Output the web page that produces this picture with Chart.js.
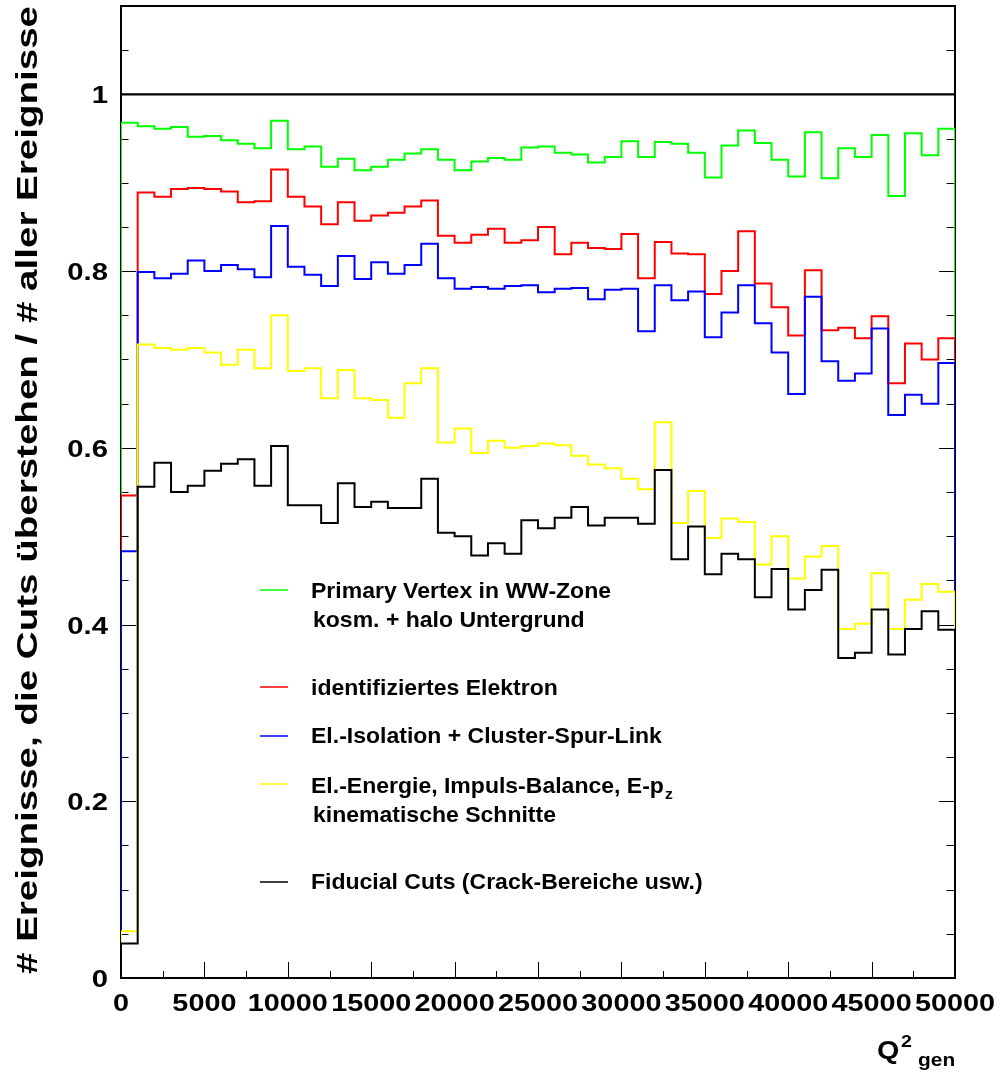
<!DOCTYPE html>
<html>
<head>
<meta charset="utf-8">
<title>Effizienz der Cuts gegen Q2_gen</title>
<script src="https://cdn.jsdelivr.net/npm/chart.js@4.4.1/dist/chart.umd.min.js"></script>
<style>
  html, body { margin: 0; padding: 0; background: #fff; }
  #wrap { width: 1001px; height: 1075px; }
</style>
</head>
<body>
<div id="wrap"><canvas id="chart" width="1001" height="1075"></canvas></div>
<script>
// Histogram bin edges in Q^2_gen (50 bins of 1000)
const q2Edges = [0, 1000, 2000, 3000, 4000, 5000, 6000, 7000, 8000, 9000,
  10000, 11000, 12000, 13000, 14000, 15000, 16000, 17000, 18000, 19000,
  20000, 21000, 22000, 23000, 24000, 25000, 26000, 27000, 28000, 29000,
  30000, 31000, 32000, 33000, 34000, 35000, 36000, 37000, 38000, 39000,
  40000, 41000, 42000, 43000, 44000, 45000, 46000, 47000, 48000, 49000, 50000];

// fraction of events surviving each cut step, one value per bin
const effVertex = [0.968, 0.964, 0.961, 0.963, 0.952, 0.953, 0.948, 0.944, 0.939, 0.970,
  0.938, 0.941, 0.918, 0.927, 0.914, 0.918, 0.926, 0.933, 0.938, 0.926,
  0.914, 0.924, 0.928, 0.926, 0.940, 0.941, 0.934, 0.932, 0.923, 0.929,
  0.947, 0.929, 0.946, 0.944, 0.934, 0.906, 0.942, 0.959, 0.945, 0.926,
  0.907, 0.957, 0.905, 0.939, 0.929, 0.954, 0.885, 0.956, 0.931, 0.961];

const effElectron = [0.546, 0.889, 0.884, 0.893, 0.894, 0.893, 0.890, 0.878, 0.879, 0.915,
  0.884, 0.873, 0.853, 0.878, 0.857, 0.863, 0.866, 0.873, 0.880, 0.840,
  0.832, 0.841, 0.848, 0.832, 0.835, 0.850, 0.819, 0.832, 0.826, 0.825,
  0.842, 0.792, 0.833, 0.820, 0.819, 0.774, 0.800, 0.845, 0.786, 0.759,
  0.727, 0.801, 0.733, 0.736, 0.724, 0.749, 0.673, 0.718, 0.700, 0.724];

const effIsolation = [0.483, 0.799, 0.792, 0.797, 0.812, 0.800, 0.807, 0.802, 0.793, 0.851,
  0.805, 0.796, 0.783, 0.817, 0.791, 0.810, 0.797, 0.807, 0.831, 0.792,
  0.780, 0.782, 0.780, 0.783, 0.784, 0.776, 0.780, 0.781, 0.768, 0.779,
  0.780, 0.732, 0.784, 0.767, 0.777, 0.725, 0.753, 0.784, 0.741, 0.708,
  0.661, 0.771, 0.698, 0.676, 0.684, 0.735, 0.637, 0.660, 0.650, 0.696];

const effKinematic = [0.053, 0.717, 0.713, 0.711, 0.713, 0.708, 0.694, 0.711, 0.690, 0.750,
  0.687, 0.690, 0.656, 0.688, 0.656, 0.654, 0.634, 0.673, 0.690, 0.606,
  0.622, 0.594, 0.608, 0.600, 0.602, 0.605, 0.603, 0.591, 0.581, 0.577,
  0.565, 0.553, 0.629, 0.515, 0.551, 0.498, 0.520, 0.516, 0.468, 0.500,
  0.452, 0.477, 0.489, 0.395, 0.401, 0.458, 0.395, 0.428, 0.446, 0.437];

const effFiducial = [0.039, 0.556, 0.583, 0.550, 0.557, 0.574, 0.582, 0.587, 0.557, 0.602,
  0.535, 0.535, 0.515, 0.560, 0.533, 0.539, 0.532, 0.532, 0.565, 0.504,
  0.500, 0.478, 0.492, 0.480, 0.518, 0.509, 0.521, 0.533, 0.512, 0.521,
  0.521, 0.514, 0.575, 0.474, 0.511, 0.457, 0.480, 0.474, 0.431, 0.463,
  0.417, 0.439, 0.462, 0.362, 0.368, 0.417, 0.366, 0.395, 0.415, 0.394];

const referenceLevel = 1;

const legendLines = [
  ['Primary Vertex in WW-Zone', 'kosm. + halo Untergrund'],
  ['identifiziertes Elektron'],
  ['El.-Isolation + Cluster-Spur-Link'],
  ['El.-Energie, Impuls-Balance, E-p', 'kinematische Schnitte'],
  ['Fiducial Cuts (Crack-Bereiche usw.)']
];
const seriesColors = ['#00ff00', '#ff0000', '#0000ff', '#ffff00', '#000000'];

const yTickValues = [0, 0.2, 0.4, 0.6, 0.8, 1];
const yTickLabels = ['0', '0.2', '0.4', '0.6', '0.8', '1'];
const xTickValues = [0, 5000, 10000, 15000, 20000, 25000, 30000, 35000, 40000, 45000, 50000];
const xTickLabels = ['0', '5000', '10000', '15000', '20000', '25000', '30000', '35000', '40000', '45000', '50000'];
const yTitle = '# Ereignisse, die Cuts überstehen / # aller Ereignisse';

const FONT = '"Liberation Sans", Arial, Helvetica, sans-serif';

// outline of a histogram: up from 0 at the first edge, down to 0 at the last
function histPoints(values) {
  const pts = [{ x: q2Edges[0], y: 0 }];
  values.forEach((v, i) => pts.push({ x: q2Edges[i], y: v }));
  pts.push({ x: q2Edges[values.length], y: values[values.length - 1] });
  pts.push({ x: q2Edges[values.length], y: 0 });
  return pts;
}

const allSeries = [effVertex, effElectron, effIsolation, effKinematic, effFiducial];

const datasets = allSeries.map((vals, i) => ({
  label: legendLines[i][0],
  data: histPoints(vals),
  borderColor: seriesColors[i],
  borderWidth: 2,
  stepped: 'before',
  pointRadius: 0,
  fill: false,
  order: allSeries.length - i + 1
}));
datasets.push({
  label: 'ref',
  data: [{ x: q2Edges[0], y: referenceLevel }, { x: q2Edges[q2Edges.length - 1], y: referenceLevel }],
  borderColor: '#000',
  borderWidth: 2.2,
  pointRadius: 0,
  order: 0
});

function stretchText(ctx, text, x, y, sx, align) {
  ctx.save();
  ctx.translate(x, y);
  ctx.scale(sx, 1);
  ctx.textAlign = align || 'left';
  ctx.fillText(text, 0, 0);
  ctx.restore();
}

const rootFrame = {
  id: 'rootFrame',
  beforeDatasetsDraw(chart) {
    const { ctx, chartArea: a, scales } = chart;
    ctx.save();
    ctx.strokeStyle = '#000';
    ctx.lineWidth = 2;
    ctx.strokeRect(a.left, a.top, a.right - a.left, a.bottom - a.top);

    // tick marks drawn inside the frame
    ctx.lineWidth = 1;
    ctx.beginPath();
    for (let i = 0; i <= 22; i++) {
      const y = Math.round(scales.y.getPixelForValue(i * 0.05)) + 0.5;
      const len = i % 4 === 0 ? 15 : 7.5;
      ctx.moveTo(a.left, y); ctx.lineTo(a.left + len, y);
      ctx.moveTo(a.right, y); ctx.lineTo(a.right - len - 1, y);
    }
    for (let i = 0; i <= 20; i++) {
      const x = Math.round(scales.x.getPixelForValue(i * 2500)) + 0.5;
      const len = i % 2 === 0 ? 16 : 7;
      ctx.moveTo(x, a.bottom); ctx.lineTo(x, a.bottom - len);
    }
    ctx.stroke();
    ctx.restore();
  },
  afterDraw(chart) {
    const { ctx, scales } = chart;
    ctx.save();
    ctx.fillStyle = '#000';
    ctx.textBaseline = 'alphabetic';

    // tick labels
    ctx.font = 'bold 24px ' + FONT;
    yTickValues.forEach((v, i) => {
      stretchText(ctx, yTickLabels[i], 108, scales.y.getPixelForValue(v) + 9, 1.22, 'right');
    });
    xTickValues.forEach((v, i) => {
      stretchText(ctx, xTickLabels[i], scales.x.getPixelForValue(v), 1011, 1.2, 'center');
    });

    // x axis title: Q^2_gen
    ctx.font = 'bold 25px ' + FONT;
    stretchText(ctx, 'Q', 877, 1059, 1.15, 'left');
    ctx.font = 'bold 17px ' + FONT;
    stretchText(ctx, '2', 901, 1047, 1.15, 'left');
    ctx.font = 'bold 19px ' + FONT;
    stretchText(ctx, 'gen', 918, 1066, 1.1, 'left');

    // y axis title, squeezed to the frame height
    ctx.font = 'bold 29px ' + FONT;
    const tw = ctx.measureText(yTitle).width;
    ctx.save();
    ctx.translate(37, 490);
    ctx.rotate(-Math.PI / 2);
    ctx.scale(968 / tw, 1);
    ctx.textAlign = 'center';
    ctx.fillText(yTitle, 0, 0);
    ctx.restore();

    // legend
    ctx.font = 'bold 22px ' + FONT;
    const sx = 300 / ctx.measureText(legendLines[0][0]).width;
    const rows = [
      { line: 590, base: [598, 627] },
      { line: 687, base: [695] },
      { line: 736, base: [743] },
      { line: 784, base: [793, 822] },
      { line: 882, base: [889] }
    ];
    rows.forEach((r, i) => {
      ctx.strokeStyle = seriesColors[i];
      ctx.lineWidth = 1.5;
      ctx.beginPath();
      ctx.moveTo(260, r.line); ctx.lineTo(288, r.line);
      ctx.stroke();
      legendLines[i].forEach((txt, j) => {
        const x0 = j === 0 ? 311 : 313;
        stretchText(ctx, txt, x0, r.base[j], sx, 'left');
        if (i === 3 && j === 0) {
          const w = ctx.measureText(txt).width * sx;
          ctx.font = 'bold 15px ' + FONT;
          stretchText(ctx, 'z', x0 + w + 1, r.base[j] + 6, sx, 'left');
          ctx.font = 'bold 22px ' + FONT;
        }
      });
    });
    ctx.restore();
  }
};

new Chart(document.getElementById('chart'), {
  type: 'line',
  data: { datasets },
  options: {
    responsive: false,
    animation: false,
    devicePixelRatio: 1,
    layout: { padding: { left: 0, right: 46, top: 6, bottom: 0 } },
    plugins: { legend: { display: false }, tooltip: { enabled: false } },
    elements: { line: { tension: 0 } },
    scales: {
      x: {
        type: 'linear', min: 0, max: 50000,
        grid: { display: false }, border: { display: false },
        ticks: { display: false },
        afterFit: s => { s.height = 97; }
      },
      y: {
        type: 'linear', min: 0, max: 1.1,
        grid: { display: false }, border: { display: false },
        ticks: { display: false },
        afterFit: s => { s.width = 121; }
      }
    }
  },
  plugins: [rootFrame]
});
</script>
</body>
</html>
